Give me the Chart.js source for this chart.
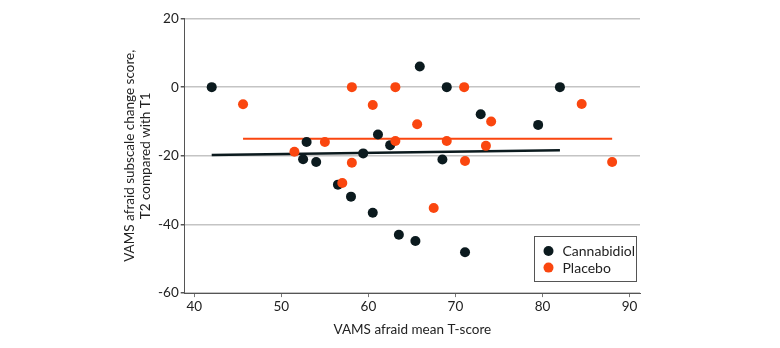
<!DOCTYPE html>
<html>
<head>
<meta charset="utf-8">
<script src="https://cdn.jsdelivr.net/npm/chart.js@4/dist/chart.umd.min.js"></script>
<style>
  html, body { margin: 0; padding: 0; background: #fff; }
  #wrap { width: 780px; height: 348px; position: relative; }
</style>
</head>
<body>
<div id="wrap"><canvas id="myChart" width="780" height="348"></canvas></div>
<script>
// Cannabidiol group: mean T-score vs change score
let cbdX = [42, 65.9, 52.9, 61.1, 62.5, 59.4, 52.5, 54, 69, 82, 72.9, 79.5, 68.5, 65.4, 71.1, 56.5, 58, 60.5, 63.5];
let cbdY = [0, 6, -16, -13.8, -16.9, -19.3, -21, -21.8, 0, 0, -7.9, -11, -21.1, -44.8, -48.1, -28.4, -31.9, -36.6, -43];

// Placebo group
let placeboX = [45.6, 58.1, 63.1, 60.5, 65.6, 55, 63.1, 51.5, 58.1, 71, 84.5, 74.1, 69, 73.5, 71.1, 88, 67.5, 57];
let placeboY = [-5, 0, 0, -5.2, -10.8, -16, -15.7, -18.8, -22, 0, -4.9, -10, -15.7, -17.1, -21.5, -21.8, -35.2, -27.9];

// fitted lines (end points)
let cbdFitX = [42, 82];
let cbdFitY = [-19.8, -18.4];
let placeboFitX = [45.6, 88];
let placeboFitY = [-15, -15];

let xTicks = [40, 50, 60, 70, 80, 90];
let yTicks = [-60, -40, -20, 0, 20];

let cbdColor = '#0b1a1e';
let placeboColor = '#fa460f';
let fontName = 'Lato';

function toPoints(xs, ys) {
  let pts = [];
  for (let i = 0; i < xs.length; i++) {
    pts.push({ x: xs[i], y: ys[i] });
  }
  return pts;
}

// legend box in the lower right of the plot
const boxLegend = {
  id: 'boxLegend',
  afterDraw(chart) {
    let ctx = chart.ctx;
    let items = [
      { label: 'Cannabidiol', color: cbdColor },
      { label: 'Placebo', color: placeboColor }
    ];
    ctx.save();
    ctx.strokeStyle = '#555';
    ctx.lineWidth = 1;
    ctx.fillStyle = '#fff';
    ctx.fillRect(534.5, 236.5, 102, 45);
    ctx.strokeRect(534.5, 236.5, 102, 45);
    ctx.font = '14px ' + fontName;
    ctx.textBaseline = 'middle';
    for (let i = 0; i < items.length; i++) {
      let y = 251 + i * 16.6;
      ctx.beginPath();
      ctx.arc(548.5, y, 5, 0, Math.PI * 2);
      ctx.fillStyle = items[i].color;
      ctx.fill();
      ctx.fillStyle = '#222';
      ctx.fillText(items[i].label, 562.5, y + 0.5);
    }
    ctx.restore();
  }
};

let ctx = document.getElementById('myChart').getContext('2d');
let myChart = new Chart(ctx, {
  type: 'scatter',
  data: {
    datasets: [
      {
        label: 'Placebo',
        data: toPoints(placeboX, placeboY),
        backgroundColor: placeboColor,
        borderWidth: 0,
        pointRadius: 5,
        order: 1
      },
      {
        label: 'Cannabidiol',
        data: toPoints(cbdX, cbdY),
        backgroundColor: cbdColor,
        borderWidth: 0,
        pointRadius: 5,
        order: 2
      },
      {
        type: 'line',
        label: 'Placebo fit',
        data: toPoints(placeboFitX, placeboFitY),
        borderColor: placeboColor,
        borderWidth: 2,
        pointRadius: 0,
        order: 3
      },
      {
        type: 'line',
        label: 'Cannabidiol fit',
        data: toPoints(cbdFitX, cbdFitY),
        borderColor: cbdColor,
        borderWidth: 2.5,
        pointRadius: 0,
        order: 4
      }
    ]
  },
  options: {
    responsive: false,
    animation: false,
    layout: {
      padding: { left: 122, right: 140, top: 18.5, bottom: 10.5 }
    },
    plugins: {
      legend: { display: false },
      tooltip: { enabled: false }
    },
    scales: {
      x: {
        type: 'linear',
        min: 38.9,
        max: 91.2,
        afterBuildTicks: function (scale) {
          scale.ticks = xTicks.map(v => ({ value: v }));
        },
        border: { color: '#555', width: 1 },
        grid: {
          drawOnChartArea: false,
          drawTicks: true,
          tickLength: 4,
          tickColor: '#777'
        },
        ticks: {
          color: '#222',
          font: { family: fontName, size: 13.5 },
          padding: 1,
          maxRotation: 0
        },
        title: {
          display: true,
          text: 'VAMS afraid mean T-score',
          color: '#222',
          font: { family: fontName, size: 13.5 },
          padding: { top: 6, bottom: 0 }
        }
      },
      y: {
        type: 'linear',
        min: -60,
        max: 20,
        afterBuildTicks: function (scale) {
          scale.ticks = yTicks.map(v => ({ value: v }));
        },
        border: { color: '#555', width: 1 },
        grid: {
          color: '#c4c4c4',
          lineWidth: 1.5,
          drawTicks: true,
          tickLength: 4,
          tickColor: '#555'
        },
        ticks: {
          color: '#222',
          font: { family: fontName, size: 13.5 },
          padding: 2
        },
        title: {
          display: true,
          text: ['VAMS afraid subscale change score,', 'T2 compared with T1'],
          color: '#222',
          font: { family: fontName, size: 13.5, lineHeight: 1.15 },
          padding: { top: 0, bottom: 3 }
        }
      }
    }
  },
  plugins: [boxLegend]
});
</script>
</body>
</html>
